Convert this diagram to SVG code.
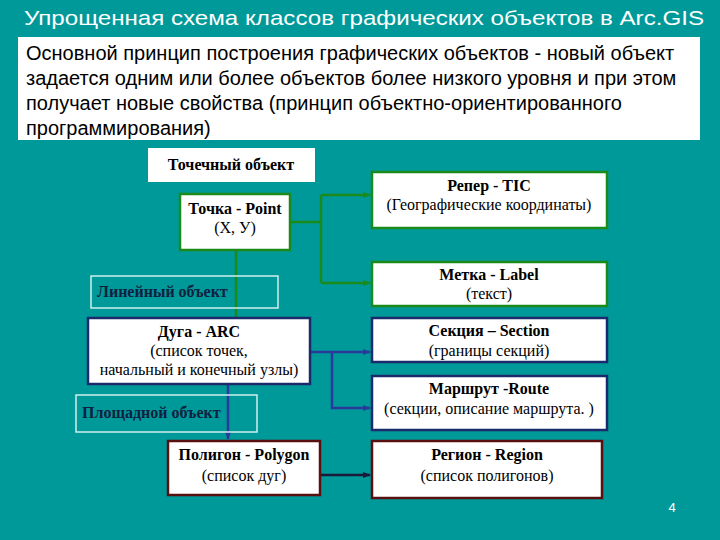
<svg xmlns="http://www.w3.org/2000/svg" width="720" height="540" viewBox="0 0 720 540">
<style>
.n{fill:#fff;stroke-width:2.5}
.t{font-family:"Liberation Serif",serif;font-size:16px;text-anchor:middle;fill:#000}
.b{font-weight:bold}
.o{fill:none;stroke:#cfeeee;stroke-width:1.5}
</style>
<defs>
<marker id="ag" markerWidth="8" markerHeight="8" refX="7" refY="4" orient="auto" markerUnits="userSpaceOnUse"><path d="M0,1 L8,4 L0,7z" fill="#1a8a1a"/></marker>
<marker id="ab" markerWidth="8" markerHeight="8" refX="7" refY="4" orient="auto" markerUnits="userSpaceOnUse"><path d="M0,1 L8,4 L0,7z" fill="#2a3a9a"/></marker>
<marker id="ak" markerWidth="8" markerHeight="8" refX="7" refY="4" orient="auto" markerUnits="userSpaceOnUse"><path d="M0,1 L8,4 L0,7z" fill="#1a1a3a"/></marker>
</defs>
<rect width="720" height="540" fill="#009999"/>
<text x="24" y="25" font-family="Liberation Sans,sans-serif" font-size="21" fill="#fff" textLength="680" lengthAdjust="spacingAndGlyphs">Упрощенная схема классов графических объектов в Arc.GIS</text>
<g id="intro">
<rect x="18" y="37" width="682" height="103" fill="#fff"/>
<text font-family="Liberation Sans,sans-serif" font-size="20" fill="#000"><tspan x="26" y="60">Основной принцип построения графических объектов - новый объект</tspan><tspan x="26" y="85">задается одним или более объектов более низкого уровня и при этом</tspan><tspan x="26" y="110">получает новые свойства (принцип объектно-ориентированного</tspan><tspan x="26" y="135">программирования)</tspan></text>
</g>
<g id="connectors" fill="none" stroke-width="2.5">
<path d="M290,222 H321 M321,195 V283" stroke="#1a8a1a"/>
<path d="M321,195 H370" stroke="#1a8a1a" marker-end="url(#ag)"/>
<path d="M321,283 H370" stroke="#1a8a1a" marker-end="url(#ag)"/>
<path d="M236,250 V318" stroke="#1a8a1a"/>
<path d="M310,352 H370" stroke="#2a3a9a" marker-end="url(#ab)"/>
<path d="M332,352 V408 H370" stroke="#2a3a9a" marker-end="url(#ab)"/>
<path d="M228,384 V439" stroke="#2a3a9a" marker-end="url(#ab)"/>
<path d="M320,475 H370" stroke="#1a1a3a" marker-end="url(#ak)"/>
</g>
<g id="point-obj"><rect x="148" y="148" width="167" height="34" fill="#fff"/><text class="t b" x="231" y="170">Точечный объект</text></g>
<g id="point"><rect class="n" x="180" y="194" width="110" height="56" stroke="#1a8a1a"/><text class="t b" x="235" y="214">Точка  - Point</text><text class="t" x="235" y="233">(X, У)</text></g>
<g id="tic"><rect class="n" x="372" y="172" width="235" height="56" stroke="#1a8a1a"/><text class="t b" x="489" y="191">Репер - TIC</text><text class="t" x="489" y="210">(Географические координаты)</text></g>
<g id="label"><rect class="n" x="372" y="262" width="235" height="44" stroke="#1a8a1a"/><text class="t b" x="489" y="280">Метка - Label</text><text class="t" x="489" y="299">(текст)</text></g>
<g id="line-obj"><rect class="o" x="91" y="276" width="187" height="32"/><text class="t b" x="97" y="297" style="text-anchor:start;fill:#102040">Линейный объект</text></g>
<g id="arc"><rect class="n" x="88" y="318" width="222" height="66" stroke="#1a2a6a"/><text class="t b" x="199" y="337">Дуга  - ARC</text><text class="t" x="199" y="356">(список точек,</text><text class="t" x="199" y="375">начальный и конечный узлы)</text></g>
<g id="section"><rect class="n" x="372" y="318" width="235" height="44" stroke="#1a2a6a"/><text class="t b" x="489" y="336">Секция – Section</text><text class="t" x="489" y="356">(границы секций)</text></g>
<g id="route"><rect class="n" x="372" y="376" width="235" height="54" stroke="#1a2a6a"/><text class="t b" x="489" y="394">Маршрут  -Route</text><text class="t" x="489" y="414">(секции, описание маршрута. )</text></g>
<g id="area-obj"><rect class="o" x="76" y="395" width="181" height="37"/><text class="t b" x="82" y="418" style="text-anchor:start;fill:#102040">Площадной объект</text></g>
<g id="polygon"><rect class="n" x="168" y="441" width="152" height="54" stroke="#5a1010"/><text class="t b" x="244" y="460">Полигон  - Polygon</text><text class="t" x="244" y="481">(список дуг)</text></g>
<g id="region"><rect class="n" x="372" y="441" width="230" height="57" stroke="#5a1010"/><text class="t b" x="487" y="460">Регион  - Region</text><text class="t" x="487" y="481">(список полигонов)</text></g>
<text x="672" y="512" font-family="Liberation Sans,sans-serif" font-size="13" fill="#fff" text-anchor="middle">4</text>
</svg>
